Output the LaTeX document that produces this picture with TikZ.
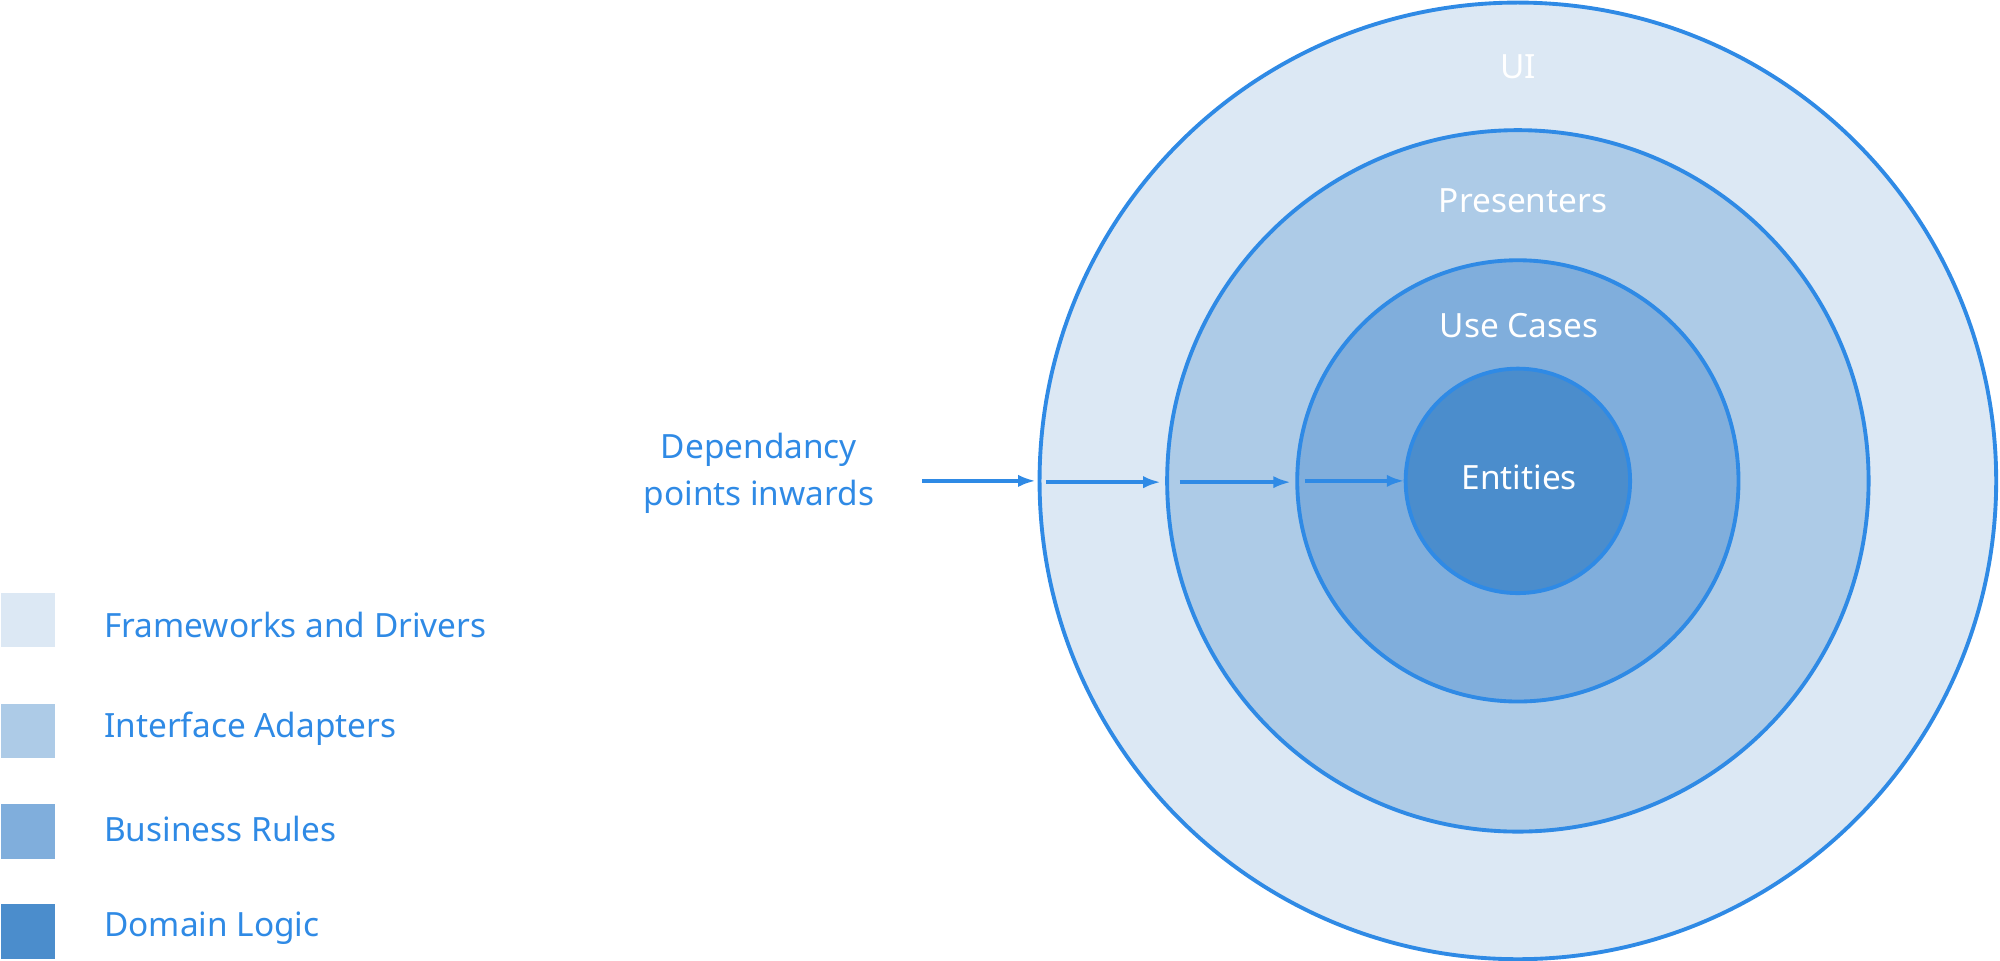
\documentclass[tikz,border=0pt]{standalone}
\usepackage{fontspec}
\setmainfont{Noto Sans}
\usetikzlibrary{arrows.meta}
\definecolor{c1}{HTML}{DCE8F4}
\definecolor{c2}{HTML}{ADCBE7}
\definecolor{c3}{HTML}{80AEDC}
\definecolor{c4}{HTML}{4B8DCC}
\definecolor{edge}{HTML}{2F8AE5}
\begin{document}
\begin{tikzpicture}[x=0.012755cm,y=-0.012755cm,
  ring/.style={circle,draw=edge,line width=1.1pt,inner sep=0pt},
  lbl/.style={text=white,font=\fontsize{9.5}{11}\selectfont},
  leg/.style={text=edge,anchor=west,font=\fontsize{9.5}{11}\selectfont},
  sq/.style={fill=#1,draw=none,minimum size=0.548cm,inner sep=0pt,anchor=north west},
  dep/.style={-{Latex[length=5pt,width=3.5pt]},draw=edge,line width=1.2pt}]
\useasboundingbox (0,0) rectangle (1568,753);
\node[ring,fill=c1,minimum size=9.567cm] (o1) at (1190,377) {};
\node[ring,fill=c2,minimum size=7.015cm] (o2) at (1190,377) {};
\node[ring,fill=c3,minimum size=4.413cm] (o3) at (1190,377) {};
\node[ring,fill=c4,minimum size=2.245cm] (o4) at (1190,377) {};
\node[lbl] (tui) at (1190,52) {UI};
\node[lbl] (tpr) at (1194,157) {Presenters};
\node[lbl] (tuc) at (1191,255) {Use Cases};
\node[lbl] (ten) at (1191,374) {Entities};
\node[text=edge,align=center,font=\fontsize{9.5}{13.5}\selectfont] (dep) at (595,371) {Dependancy\\points inwards};
\coordinate (a0) at (723,377); \coordinate (a1) at (812,377);
\coordinate (b0) at (820,378); \coordinate (b1) at (910,378);
\coordinate (c0) at (925,378); \coordinate (c1) at (1012,378);
\coordinate (d0) at (1023,377); \coordinate (d1) at (1101,377);
\draw[dep] (a0) -- (a1);
\draw[dep] (b0) -- (b1);
\draw[dep] (c0) -- (c1);
\draw[dep] (d0) -- (d1);
\node[sq=c1] (s1) at (0,464) {};
\node[sq=c2] (s2) at (0,551) {};
\node[sq=c3] (s3) at (0,630) {};
\node[sq=c4] (s4) at (0,708) {};
\node[leg] (l1) at (72,490) {Frameworks and Drivers};
\node[leg] (l2) at (72,571) {Interface Adapters};
\node[leg] (l3) at (72,650) {Business Rules};
\node[leg] (l4) at (72,728) {Domain Logic};
\end{tikzpicture}
\end{document}
